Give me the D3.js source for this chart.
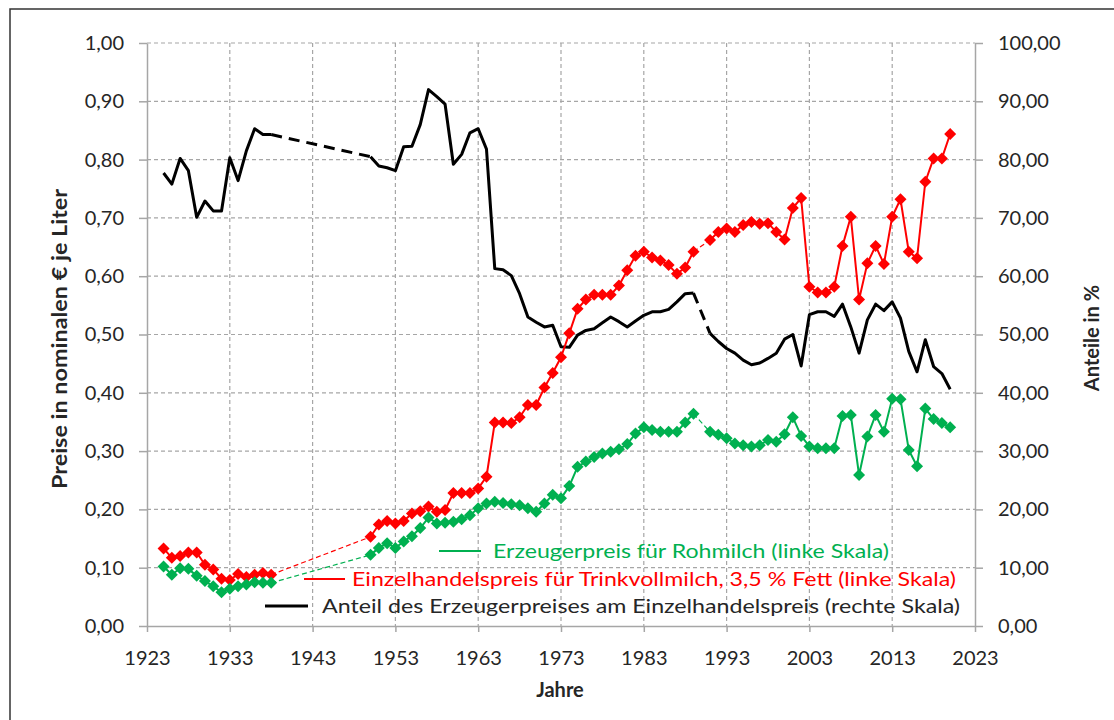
<!DOCTYPE html>
<html>
<head>
<meta charset="utf-8">
<script src="https://cdn.jsdelivr.net/npm/d3@7"></script>
<style>
  html, body { margin: 0; padding: 0; background: #fff; }
  svg { display: block; }
  text { font-family: Lato, "Open Sans", sans-serif; }
</style>
</head>
<body>
<svg id="chart" width="1114" height="720"></svg>
<script>
// ---------- DATA ----------
const years = [
  1925,1926,1927,1928,1929,1930,1931,1932,1933,1934,1935,1936,1937,1938,
  1950,1951,1952,1953,1954,1955,1956,1957,1958,1959,
  1960,1961,1962,1963,1964,1965,1966,1967,1968,1969,
  1970,1971,1972,1973,1974,1975,1976,1977,1978,1979,
  1980,1981,1982,1983,1984,1985,1986,1987,1988,1989,
  1991,1992,1993,1994,1995,1996,1997,1998,1999,
  2000,2001,2002,2003,2004,2005,2006,2007,2008,2009,
  2010,2011,2012,2013,2014,2015,2016,2017,2018,2019,
  2020
];
const erzeugerpreis = [
  0.102,0.088,0.099,0.098,0.086,0.077,0.068,0.058,0.064,0.068,0.071,0.075,0.074,0.074,
  0.122,0.134,0.142,0.134,0.145,0.154,0.168,0.186,0.176,0.177,
  0.179,0.183,0.190,0.202,0.210,0.213,0.211,0.209,0.207,0.202,
  0.196,0.210,0.225,0.219,0.240,0.273,0.282,0.290,0.296,0.299,
  0.303,0.312,0.330,0.341,0.336,0.333,0.333,0.333,0.349,0.364,
  0.333,0.328,0.322,0.313,0.310,0.308,0.310,0.319,0.316,
  0.329,0.358,0.326,0.308,0.305,0.305,0.305,0.360,0.362,0.259,
  0.325,0.362,0.333,0.390,0.389,0.302,0.274,0.373,0.355,0.348,
  0.341
];
const einzelhandelspreis = [
  0.133,0.117,0.120,0.126,0.126,0.105,0.097,0.081,0.079,0.089,0.084,0.088,0.091,0.088,
  0.153,0.174,0.180,0.176,0.180,0.193,0.197,0.205,0.196,0.199,
  0.228,0.228,0.228,0.236,0.256,0.349,0.349,0.348,0.358,0.379,
  0.379,0.409,0.434,0.461,0.502,0.544,0.560,0.568,0.568,0.568,
  0.584,0.610,0.635,0.642,0.632,0.627,0.619,0.604,0.615,0.642,
  0.662,0.676,0.682,0.676,0.688,0.693,0.690,0.691,0.676,
  0.663,0.717,0.734,0.582,0.572,0.572,0.582,0.652,0.702,0.560,
  0.622,0.652,0.621,0.702,0.732,0.642,0.631,0.762,0.802,0.802,
  0.844
];
const anteil = [
  77.7,75.8,80.2,78.1,70.1,72.9,71.2,71.2,80.3,76.4,81.5,85.3,84.3,84.3,
  80.5,78.9,78.6,78.1,82.2,82.3,86.0,92.0,90.8,89.5,
  79.2,80.9,84.6,85.3,81.8,61.3,61.1,60.1,57.0,53.0,
  52.1,51.3,51.6,47.9,47.8,49.9,50.7,51.0,52.0,53.0,
  52.2,51.3,52.3,53.3,53.9,53.9,54.3,55.6,57.0,57.1,
  50.2,48.8,47.6,46.8,45.6,44.8,45.1,45.9,46.8,
  49.2,50.0,44.6,53.4,53.9,53.9,53.1,55.2,51.3,46.8,
  52.5,55.2,54.1,55.6,52.8,47.1,43.6,49.1,44.5,43.3,
  40.6
];
const xTicks = [1923,1933,1943,1953,1963,1973,1983,1993,2003,2013,2023];
const leftTicks = [0,0.1,0.2,0.3,0.4,0.5,0.6,0.7,0.8,0.9,1.0];
const leftTickLabels = ["0,00","0,10","0,20","0,30","0,40","0,50","0,60","0,70","0,80","0,90","1,00"];
const rightTicks = [0,10,20,30,40,50,60,70,80,90,100];
const rightTickLabels = ["0,00","10,00","20,00","30,00","40,00","50,00","60,00","70,00","80,00","90,00","100,00"];
const legendLabels = [
  "Erzeugerpreis für Rohmilch (linke Skala)",
  "Einzelhandelspreis für Trinkvollmilch, 3,5 % Fett (linke Skala)",
  "Anteil des Erzeugerpreises am Einzelhandelspreis (rechte Skala)"
];
const leftTitle = "Preise in nominalen € je Liter";
const rightTitle = "Anteile in %";
const xTitle = "Jahre";

// ---------- LAYOUT ----------
const svg = d3.select("#chart");
const W = 1114, H = 720;
const plot = {left: 147, right: 975, top: 43, bottom: 626};
const GREEN = "#00B050", RED = "#FF0000", BLACK = "#000000";
const AXIS = "#a6a6a6", GRID = "#a6a6a6", TXT = "#262626";

svg.append("rect").attr("width", W).attr("height", H).attr("fill", "#fff");
// outer frame
svg.append("path").attr("d", `M10,${H}V9H${W}`).attr("fill", "none")
   .attr("stroke", "#333").attr("stroke-width", 1.5);

const x = d3.scaleLinear().domain([1923, 2023]).range([plot.left, plot.right]);
const yL = d3.scaleLinear().domain([0, 1]).range([plot.bottom, plot.top]);
const yR = d3.scaleLinear().domain([0, 100]).range([plot.bottom, plot.top]);

// grid
const grid = svg.append("g");
grid.selectAll("line.h").data(leftTicks.filter(d => d > 0)).join("line")
  .attr("x1", plot.left).attr("x2", plot.right)
  .attr("y1", d => yL(d)).attr("y2", d => yL(d))
  .attr("stroke", GRID).attr("stroke-width", 1.2).attr("stroke-dasharray", "4,3");
grid.selectAll("line.v").data(xTicks.filter(d => d > 1923 && d < 2023)).join("line")
  .attr("x1", d => x(d)).attr("x2", d => x(d))
  .attr("y1", plot.top).attr("y2", plot.bottom)
  .attr("stroke", GRID).attr("stroke-width", 1.2).attr("stroke-dasharray", "4,3");

// axes
function styleAxis(g) {
  g.selectAll(".domain").attr("stroke", AXIS).attr("stroke-width", 1.5);
  g.selectAll(".tick line").attr("stroke", AXIS).attr("stroke-width", 1.5);
  g.selectAll(".tick text").attr("fill", TXT).style("font-size", "20px")
    .style("font-family", "Lato, 'Open Sans', sans-serif");
}
const axL = svg.append("g").attr("transform", `translate(${plot.left},0)`)
  .call(d3.axisLeft(yL).tickValues(leftTicks).tickFormat((d, i) => leftTickLabels[i])
        .tickSize(8).tickSizeOuter(0).tickPadding(15));
styleAxis(axL);
const axR = svg.append("g").attr("transform", `translate(${plot.right},0)`)
  .call(d3.axisRight(yR).tickValues(rightTicks).tickFormat((d, i) => rightTickLabels[i])
        .tickSize(8).tickSizeOuter(0).tickPadding(15));
styleAxis(axR);
const axB = svg.append("g").attr("transform", `translate(0,${plot.bottom})`)
  .call(d3.axisBottom(x).tickValues(xTicks).tickFormat(d3.format("d"))
        .tickSize(6).tickSizeOuter(0).tickPadding(19));
styleAxis(axB);

// ---------- SERIES ----------
function seriesData(vals) { return years.map((yr, i) => ({yr, v: vals[i]})); }
function segments(data) {
  const solid = [], gaps = [];
  let cur = [data[0]];
  for (let i = 1; i < data.length; i++) {
    if (data[i].yr - data[i - 1].yr > 1) {
      solid.push(cur); gaps.push([data[i - 1], data[i]]); cur = [data[i]];
    } else cur.push(data[i]);
  }
  solid.push(cur);
  return {solid, gaps};
}
const diamond = "M0,-6L6,0L0,6L-6,0Z";

function drawSeries(vals, yScale, color, width, dash, gapWidth, markers) {
  const data = seriesData(vals);
  const {solid, gaps} = segments(data);
  const line = d3.line().x(d => x(d.yr)).y(d => yScale(d.v));
  const g = svg.append("g");
  g.selectAll("path.gap").data(gaps).join("path")
    .attr("d", line).attr("fill", "none").attr("stroke", color)
    .attr("stroke-width", gapWidth).attr("stroke-dasharray", dash);
  g.selectAll("path.seg").data(solid).join("path")
    .attr("d", line).attr("fill", "none").attr("stroke", color)
    .attr("stroke-width", width).attr("stroke-linejoin", "round");
  if (markers) {
    g.selectAll("path.m").data(data).join("path")
      .attr("d", diamond)
      .attr("transform", d => `translate(${x(d.yr)},${yScale(d.v)})`)
      .attr("fill", color);
  }
}
drawSeries(anteil, yR, BLACK, 3, "11,7", 3, false);
drawSeries(einzelhandelspreis, yL, RED, 2, "5,3", 1.2, true);
drawSeries(erzeugerpreis, yL, GREEN, 2, "5,3", 1.2, true);

// ---------- LEGEND ----------
const legendItems = [
  {label: legendLabels[0], color: GREEN, lx1: 439, lx2: 481, tx: 493, tw: 396, y: 551, w: 2},
  {label: legendLabels[1], color: RED,   lx1: 304, lx2: 345, tx: 352, tw: 604, y: 579, w: 2},
  {label: legendLabels[2], color: BLACK, lx1: 265, lx2: 308, tx: 322, tw: 638, y: 606, w: 3}
];
const lg = svg.append("g");
legendItems.forEach(it => {
  lg.append("line").attr("x1", it.lx1).attr("x2", it.lx2).attr("y1", it.y).attr("y2", it.y)
    .attr("stroke", it.color).attr("stroke-width", it.w);
  lg.append("text").attr("x", it.tx).attr("y", it.y).attr("dy", "0.35em")
    .attr("fill", it.color === BLACK ? TXT : it.color).style("font-size", "20px")
    .attr("textLength", it.tw).attr("lengthAdjust", "spacingAndGlyphs")
    .text(it.label);
});

// ---------- TITLES ----------
svg.append("text").attr("transform", "translate(60,339) rotate(-90)")
  .attr("text-anchor", "middle").attr("dy", "0.35em")
  .style("font-size", "20px").style("font-weight", "bold").attr("fill", TXT)
  .attr("textLength", 300).attr("lengthAdjust", "spacingAndGlyphs")
  .text(leftTitle);
svg.append("text").attr("transform", "translate(1092,338) rotate(-90)")
  .attr("text-anchor", "middle").attr("dy", "0.35em")
  .style("font-size", "20px").style("font-weight", "bold").attr("fill", TXT)
  .text(rightTitle);
svg.append("text").attr("x", 560).attr("y", 690)
  .attr("text-anchor", "middle").attr("dy", "0.35em")
  .style("font-size", "20px").style("font-weight", "bold").attr("fill", TXT)
  .text(xTitle);
</script>
</body>
</html>
